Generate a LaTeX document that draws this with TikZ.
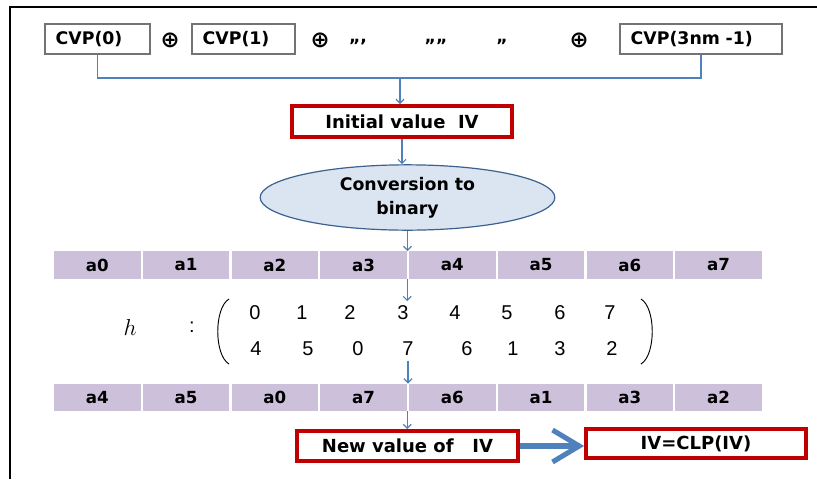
\documentclass[tikz,border=0pt]{standalone}
\usepackage{fontspec}
\setmainfont{DejaVu Sans}
\newfontfamily\digitfont{Liberation Sans}
\usetikzlibrary{arrows.meta,positioning,shapes.geometric}
\definecolor{flowblue}{HTML}{4F81BD}
\definecolor{boxred}{HTML}{C00000}
\definecolor{celllilac}{HTML}{CCC0DA}
\definecolor{ovalfill}{HTML}{DBE5F1}

\begin{document}
\begin{tikzpicture}[x=0.75pt,y=-0.75pt,
  cvp/.style={draw=black!55,line width=2pt,minimum height=22.5pt,inner xsep=8pt,inner ysep=0pt,
    align=left,font=\bfseries\fontsize{13}{15}\selectfont},
  redbox/.style={draw=boxred,line width=2.8pt,inner sep=0pt,font=\bfseries\fontsize{13.5}{16}\selectfont},
  cell/.style={fill=celllilac,minimum width=65pt,minimum height=20.5pt,inner sep=0pt,
    font=\bfseries\fontsize{12.5}{14}\selectfont},
  digit/.style={font=\digitfont\fontsize{15}{17}\selectfont},
  xorsign/.style={font=\bfseries\fontsize{17}{17}\selectfont},
  dots/.style={font=\bfseries\fontsize{13}{15}\selectfont,anchor=base},
  flow/.style={draw=flowblue,line width=0.9pt},
  link/.style={flow,-{Straight Barb[length=3pt,width=6pt]}}]
\useasboundingbox (0,0) rectangle (817,479);
\draw[line width=1.2pt] (817,7) -- (10,7) -- (10,479);

\node[cvp,text width=62.75pt] (cvp0) at (97.5,39) {CVP(0)};
\node[cvp,text width=61.25pt] (cvp1) at (243.5,39) {CVP(1)};
\node[cvp,text width=105.5pt] (cvpn) at (701,39) {CVP(3nm -1)};
\node[xorsign] (x1) at (170,40) {⊕};
\node[xorsign] (x2) at (320,40) {⊕};
\node[xorsign] (x3) at (579,40) {⊕};
\node[dots] (d1) at (358,42) {,,,};
\node[dots] (d2) at (436,42) {,,,,};
\node[dots] (d3) at (502,42) {,,};

\coordinate (join) at (400,78);
\draw[flow] (cvp0.south) -- (cvp0.south |- join) -- (cvpn.south |- join) -- (cvpn.south);

\node[redbox,minimum width=165pt,minimum height=23.25pt] (init) at (402,121.5) {Initial value\ \ IV};
\draw[link] (join) -- (join |- init.north);

\node[ellipse,draw=flowblue!75!black,fill=ovalfill,line width=0.9pt,minimum width=221pt,minimum height=49pt,
  inner sep=0pt,align=center,font=\bfseries\fontsize{13}{18}\selectfont] (conv) at (407.5,197.5)
  {Conversion to\\binary};
\draw[link] (init.south) -- (init.south |- conv.north);

\foreach \i/\t in {0/a0,1/a1,2/a2,3/a3,4/a4,5/a5,6/a6,7/a7}
  \node[cell] (b\i) at ({53+88.75*(\i+0.5)},265) {\t};
\draw[link] (conv.south) -- (conv.south |- b0.north);

\node[font=\LARGE] (hmap) at (130,327) {$h$};
\node[digit] (colon) at (192,327) {:};
\foreach \i/\u/\xu/\l/\xl in {0/0/255/4/256,1/1/302/5/308,2/2/350/0/358,3/3/403/7/408,
    4/4/455/6/467,5/5/507/1/513,6/6/560/3/560,7/7/610/2/612} {
  \node[digit] (u\i) at (\xu,313) {\u};
  \node[digit] (l\i) at (\xl,349) {\l};
}
\draw[line width=0.7pt] (229,299) .. controls (214,308) and (214,355) .. (229,364);
\draw[line width=0.7pt] (641,299) .. controls (656,308) and (656,355) .. (641,364);
\draw[link] (b3.south east) -- (b3.south east |- u3.north);

\foreach \i/\t in {0/a4,1/a5,2/a0,3/a7,4/a6,5/a1,6/a3,7/a2}
  \node[cell] (p\i) at ({53+88.75*(\i+0.5)},397.5) {\t};
\draw[link] (l3.south) -- (l3.south |- p3.north);

\node[redbox,minimum width=165.75pt,minimum height=22.5pt] (newiv) at (407.5,446) {New value of\ \ \ IV};
\node[redbox,minimum width=165pt,minimum height=21.75pt] (clp) at (696,443.5) {IV=CLP(IV)};
\draw[link] (p3.south east) -- (p3.south east |- newiv.north);
\draw[flow,line width=3.8pt,-{Straight Barb[length=20pt,width=24pt]}] (newiv.east) -- (newiv.east -| clp.west);
\end{tikzpicture}
\end{document}
